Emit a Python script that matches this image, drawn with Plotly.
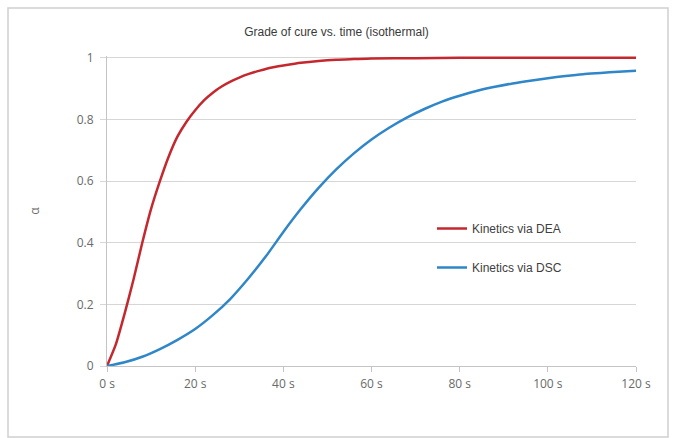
import plotly.graph_objects as go

# Data
t_dea = [0, 2, 4, 6, 8, 10, 12, 14, 16, 18, 20, 22, 24, 26, 28, 30, 32, 34, 36, 38, 40, 44, 48,
         52, 56, 60, 70, 80, 90, 100, 110, 120]
alpha_dea = [0, 0.07, 0.17, 0.28, 0.40, 0.51, 0.60, 0.68, 0.745, 0.792, 0.83, 0.862, 0.887, 0.907,
             0.923, 0.936, 0.947, 0.956, 0.964, 0.970, 0.975, 0.984, 0.99, 0.994, 0.996, 0.998,
             0.999, 1.0, 1.0, 1.0, 1.0, 1.0]

t_dsc = [0, 4, 8, 12, 16, 20, 24, 28, 32, 36, 40, 44, 48, 52, 56, 60, 64, 68, 72, 76, 80, 84, 88,
         92, 96, 100, 104, 108, 112, 116, 120]
alpha_dsc = [0, 0.012, 0.03, 0.055, 0.085, 0.12, 0.165, 0.218, 0.283, 0.355, 0.435, 0.51, 0.578,
             0.638, 0.69, 0.735, 0.773, 0.806, 0.834, 0.858, 0.877, 0.893, 0.906, 0.917, 0.926,
             0.934, 0.941, 0.947, 0.951, 0.955, 0.958]

x_ticks = [0, 20, 40, 60, 80, 100, 120]
x_ticktext = ["0 s", "20 s", "40 s", "60 s", "80 s", "100 s", "120 s"]
y_ticks = [0, 0.2, 0.4, 0.6, 0.8, 1]
y_ticktext = ["0", "0.2", "0.4", "0.6", "0.8", "1"]

W, H = 673, 438
L, R, T, B = 107, 37, 56, 72
pw, ph = W - L - R, H - T - B


def px_x(x):
    return (x - L) / pw


def px_y(y):
    return (H - B - y) / ph


fig = go.Figure()
fig.add_trace(go.Scatter(x=t_dea, y=alpha_dea, mode="lines", name="Kinetics via DEA",
                         line=dict(color="#c4282e", width=2.5, shape="spline", smoothing=0.6),
                         legendgroup="a"))
fig.add_trace(go.Scatter(x=t_dsc, y=alpha_dsc, mode="lines", name="Kinetics via DSC",
                         line=dict(color="#2f86c8", width=2.5, shape="spline", smoothing=0.6),
                         legendgroup="b"))

tickfont = dict(family="Open Sans, Noto Sans, sans-serif", size=12, color="#6a6a6a")

fig.update_layout(
    width=W, height=H,
    margin=dict(l=L, r=R, t=T, b=B),
    paper_bgcolor="white", plot_bgcolor="white",
    title=dict(text="Grade of cure vs. time (isothermal)", x=0.5, xref="container",
               y=1 - 32 / H, yref="container", xanchor="center", yanchor="middle",
               font=dict(family="Liberation Sans, Arial, sans-serif", size=12, color="#3a3a3a")),
    xaxis=dict(range=[0, 120], tickvals=x_ticks, ticktext=x_ticktext, showgrid=False,
               showline=True, linecolor="#c4c4c4", linewidth=1,
               ticks="outside", ticklen=5, tickcolor="#c4c4c4", tickfont=tickfont,
               zeroline=False, ticklabelstandoff=2),
    yaxis=dict(range=[0, 1.006], tickvals=y_ticks, ticktext=y_ticktext, showgrid=True,
               gridcolor="#d6d6d6", gridwidth=1.2,
               showline=True, linecolor="#c4c4c4", linewidth=1,
               ticks="outside", ticklen=6, tickcolor="#d6d6d6", tickfont=tickfont,
               zeroline=False, ticklabelstandoff=4,
               title=dict(text="α", standoff=34,
                          font=dict(family="Open Sans, Noto Sans, sans-serif", size=12,
                                    color="#6a6a6a"))),
    legend=dict(x=px_x(432), y=px_y(214), xanchor="left", yanchor="top",
                bgcolor="rgba(0,0,0,0)", traceorder="grouped", tracegroupgap=20,
                font=dict(family="Liberation Sans, Arial, sans-serif", size=12, color="#404040")),
    showlegend=True,
    shapes=[
        dict(type="rect", xref="paper", yref="paper", x0=px_x(8), x1=px_x(668),
             y0=px_y(437), y1=px_y(8), line=dict(color="#d0d0d0", width=1.5),
             fillcolor="rgba(0,0,0,0)", layer="below"),
        dict(type="rect", xref="paper", yref="paper", x0=px_x(396), x1=px_x(624),
             y0=px_y(290), y1=px_y(200), line=dict(width=0), fillcolor="white",
             layer="between"),
    ],
)

fig.write_html("out.html")
